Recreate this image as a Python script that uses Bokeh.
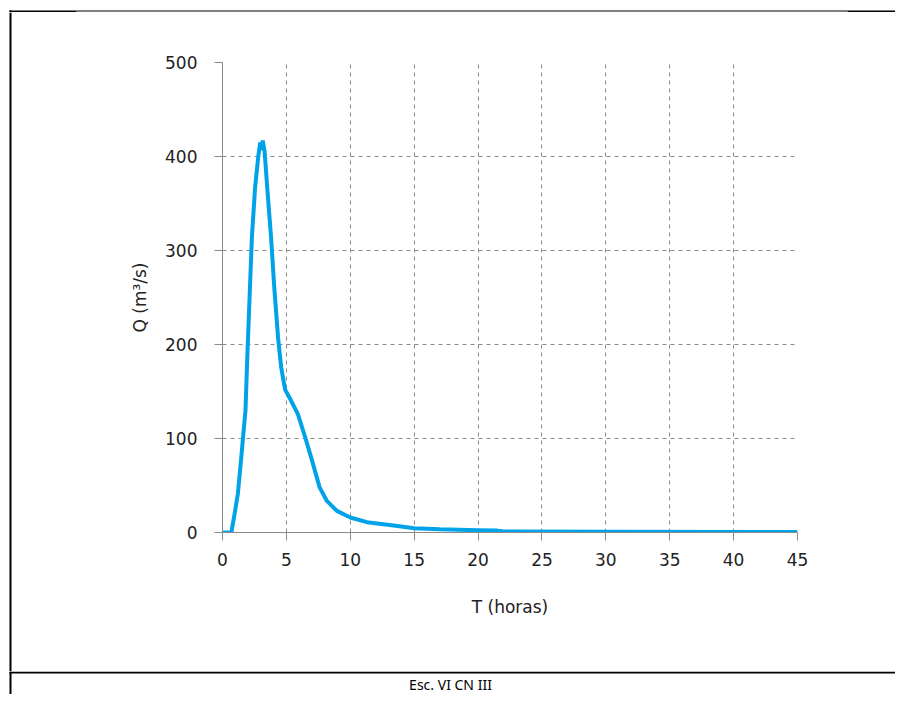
from bokeh.plotting import figure
from bokeh.layouts import column, row
from bokeh.models import Range1d, FixedTicker, BoxAnnotation, Label
from bokeh.embed import file_html
from bokeh.resources import INLINE

# Hydrograph data
T_horas = [0, 0.5, 0.7, 0.9, 1.2, 1.45, 1.6, 1.8, 1.95, 2.15, 2.3, 2.55, 2.8, 2.95,
           3.05, 3.15, 3.3, 3.5, 3.8, 4.05, 4.35, 4.6, 4.9, 5.3, 5.9, 6.5, 7.0,
           7.6, 8.15, 8.95, 10.0, 11.3, 13.4, 15.0, 17.0, 20.0, 21.5, 22.0, 30.0, 45.0]
Q_m3s = [0, 0, 1, 16, 41, 77, 100, 130, 190, 261, 314, 367, 400, 415,
         407, 417, 405, 367, 314, 261, 207, 175, 152, 142, 126, 100, 77,
         48, 34, 23, 16, 11, 7.5, 4.5, 3.5, 2.5, 2.0, 1.0, 0.8, 0.5]

x_ticks = [0, 5, 10, 15, 20, 25, 30, 35, 40, 45]
y_ticks = [0, 100, 200, 300, 400, 500]

x_label = "T (horas)"
y_label = "Q (m³/s)"
caption = "Esc. VI CN III"

FONT = "DejaVu Sans"
GRAY = "#8a8a8a"

W, H = 895, 694
TOP_H = 12          # strip holding the table's top rule
LEFT_W = 12         # strip holding the table's left rule
SEP_Y = 671         # y of the rule above the caption
MAIN_H = SEP_Y - TOP_H
CAP_H = H - SEP_Y


def deco(width, height):
    f = figure(width=width, height=height, output_backend="svg",
               toolbar_location=None, x_axis_type=None, y_axis_type=None,
               x_range=Range1d(0, width), y_range=Range1d(height, 0),
               min_border=0)
    f.grid.visible = False
    f.outline_line_color = None
    f.background_fill_color = "white"
    f.border_fill_color = "white"
    f.frame_align = False
    return f


def rule(f, l, r, t, b):
    f.add_layout(BoxAnnotation(left=l, right=r, top=t, bottom=b,
                               fill_color="black", fill_alpha=1.0,
                               line_color=None))


# --- top strip --------------------------------------------------------
top = deco(W, TOP_H)
rule(top, 9, 76, 10, 12)
rule(top, 76, 847, 10, 11)
rule(top, 847, W, 10, 12)
rule(top, 9, 11, 10, 12)

# --- left strip -------------------------------------------------------
left = deco(LEFT_W, MAIN_H)
rule(left, 9, 11, 0, MAIN_H)

# --- main chart -------------------------------------------------------
MW = W - LEFT_W
p = figure(width=MW, height=MAIN_H, output_backend="svg", toolbar_location=None,
           x_range=Range1d(0, 45), y_range=Range1d(0, 500),
           min_border_left=222 - LEFT_W, min_border_right=W - 797,
           min_border_top=62 - TOP_H, min_border_bottom=SEP_Y - 532)
p.frame_align = False
p.outline_line_color = None
p.background_fill_color = "white"
p.border_fill_color = "white"

p.line(T_horas, Q_m3s, line_color="#00A2E8", line_width=4)

for ax in (p.xaxis, p.yaxis):
    ax.axis_line_color = GRAY
    ax.major_tick_line_color = GRAY
    ax.major_tick_out = 8
    ax.major_tick_in = 0
    ax.minor_tick_line_color = None
    ax.major_label_text_font = FONT
    ax.major_label_text_font_size = "17px"
    ax.major_label_text_color = "#222222"
    ax.axis_label_text_font = FONT
    ax.axis_label_text_font_size = "17px"
    ax.axis_label_text_font_style = "normal"
    ax.axis_label_text_color = "#222222"

p.xaxis.ticker = FixedTicker(ticks=x_ticks)
p.yaxis.ticker = FixedTicker(ticks=y_ticks)
p.xaxis.axis_label = x_label
p.yaxis.axis_label = y_label
p.xaxis.major_label_standoff = 12
p.yaxis.major_label_standoff = 17
p.xaxis.axis_label_standoff = 28
p.yaxis.axis_label_standoff = 12

for g in (p.xgrid, p.ygrid):
    g.grid_line_color = GRAY
    g.grid_line_dash = "4 4"
    g.grid_line_width = 1

# --- caption strip ----------------------------------------------------
cap = deco(W, CAP_H)
rule(cap, 9, W, 0, 2)
rule(cap, 9, 11, 0, CAP_H)
cap.add_layout(Label(x=450, y=13, text=caption, text_align="center",
                     text_baseline="middle", text_font="Noto Sans",
                     text_font_size="14px", text_color="black"))

layout = column(top, row(left, p, spacing=0), cap, spacing=0)

open("out.html", "w").write(file_html(layout, INLINE))
